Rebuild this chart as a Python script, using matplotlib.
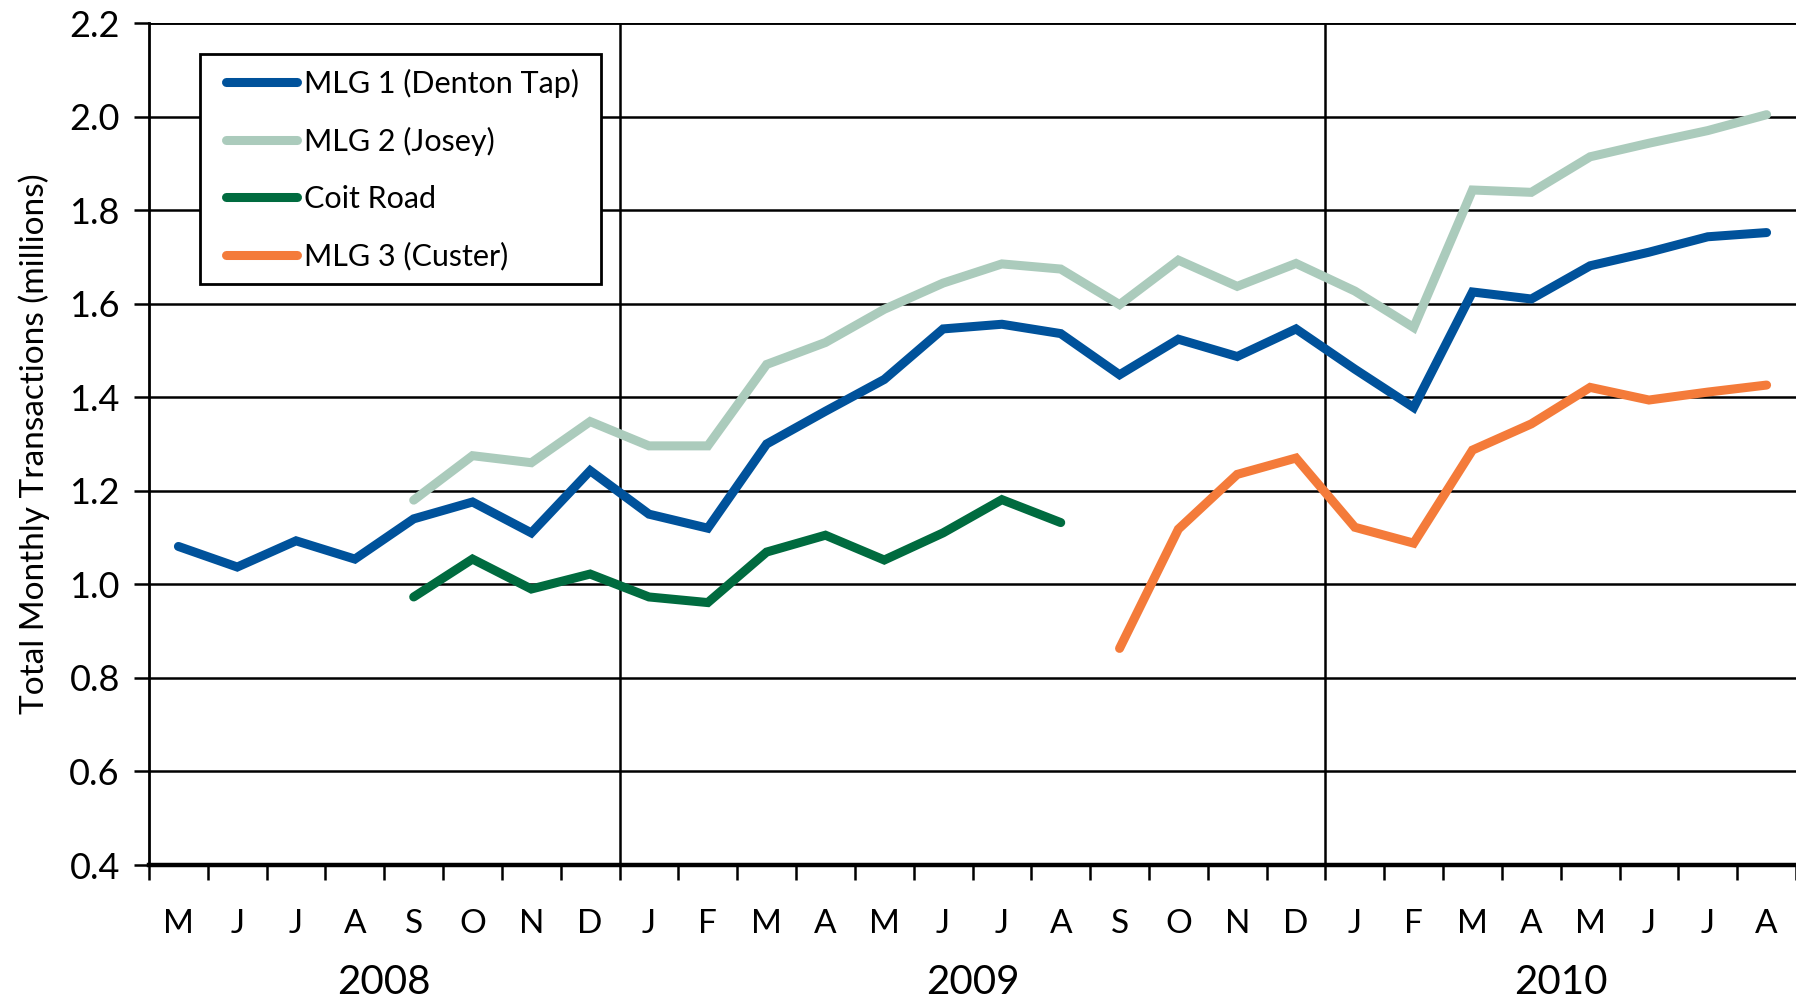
import matplotlib
matplotlib.use("Agg")
import matplotlib.pyplot as plt
from matplotlib.patches import Rectangle
import numpy as np

plt.rcParams['font.family'] = ['Lato', 'DejaVu Sans']

months = ["M", "J", "J", "A", "S", "O", "N", "D",
          "J", "F", "M", "A", "M", "J", "J", "A", "S", "O", "N", "D",
          "J", "F", "M", "A", "M", "J", "J", "A"]
years = ["2008", "2009", "2010"]
year_spans = [(0, 7), (8, 19), (20, 27)]

mlg1 = [1.081, 1.037, 1.093, 1.054, 1.14, 1.176, 1.11, 1.243,
        1.15, 1.12, 1.30, 1.37, 1.438, 1.546, 1.556, 1.536, 1.448, 1.524, 1.487, 1.546,
        1.46, 1.378, 1.625, 1.61, 1.681, 1.71, 1.743, 1.752]
mlg2_start = 4
mlg2 = [1.18, 1.275, 1.26, 1.348,
        1.296, 1.296, 1.47, 1.517, 1.588, 1.644, 1.685, 1.674, 1.598, 1.693, 1.637, 1.686,
        1.627, 1.549, 1.843, 1.838, 1.914, 1.943, 1.97, 2.004]
coit_start = 4
coit = [0.973, 1.054, 0.99, 1.022, 0.973, 0.961, 1.069, 1.105, 1.052, 1.11, 1.181, 1.132]
mlg3_start = 16
mlg3 = [0.863, 1.118, 1.235, 1.27, 1.122, 1.088, 1.287, 1.343, 1.421, 1.394, 1.411, 1.426]

series = [
    ("MLG 1 (Denton Tap)", 0, mlg1, "#00529B"),
    ("MLG 2 (Josey)", mlg2_start, mlg2, "#ABCBBC"),
    ("Coit Road", coit_start, coit, "#006B3F"),
    ("MLG 3 (Custer)", mlg3_start, mlg3, "#F47B3A"),
]

fig = plt.figure(figsize=(17.96, 9.97), dpi=100)
ax = fig.add_axes([149/1796, 1 - 865/997, 1 - 149/1796, (865-23)/997])

for name, start, vals, col in series:
    x = np.arange(start, start + len(vals))
    ax.plot(x, vals, color=col, lw=6.5, label=name, solid_capstyle='round',
            solid_joinstyle='miter', zorder=3)

ax.set_xlim(-0.5, len(months) - 0.5)
ax.set_ylim(0.4, 2.2)
yt = np.arange(0.4, 2.21, 0.2)
ax.set_yticks(yt)
ax.set_yticklabels([f"{v:.1f}" for v in yt], fontsize=26)
for v in yt:
    ax.axhline(v, color='black', lw=1.8, zorder=1)
ax.axhline(2.2, color='black', lw=2.6, zorder=1)
for b in [7.5, 19.5]:
    ax.axvline(b, color='black', lw=1.8, zorder=1)

ax.set_xticks(np.arange(len(months)))
ax.set_xticklabels(months, fontsize=24)
ax.set_xticks(np.arange(-0.5, len(months)), minor=True)
ax.tick_params(axis='x', which='major', length=0, pad=32)
ax.tick_params(axis='x', which='minor', length=11, width=1.8, direction='out')
ax.tick_params(axis='y', length=11, width=1.8, direction='out', pad=10)

for s in ['top', 'right']:
    ax.spines[s].set_visible(False)
ax.spines['left'].set_linewidth(2)
ax.spines['bottom'].set_linewidth(3.2)

for yr, (a, b) in zip(years, year_spans):
    ax.text((a + b) / 2, -0.139, yr, transform=ax.get_xaxis_transform(),
            ha='center', va='center', fontsize=29)

ax.set_ylabel("Total Monthly Transactions (millions)", fontsize=24, labelpad=14)

# legend frame box
ax.add_patch(Rectangle((0.0312, 0.690), 0.2434, 0.2734, transform=ax.transAxes,
                       facecolor='white', edgecolor='black', lw=2, zorder=4))
leg = ax.legend(loc='upper left', bbox_to_anchor=(0.0465, 0.946), fontsize=22,
                frameon=False, handlelength=2.35,
                handletextpad=0.2, labelspacing=0.95, borderpad=0, borderaxespad=0)
leg.set_zorder(5)

fig.savefig("out.png", dpi=100, facecolor='white')
